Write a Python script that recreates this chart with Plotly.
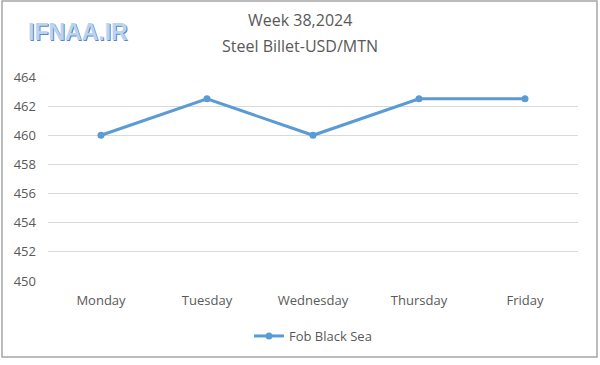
import plotly.graph_objects as go

days = ["Monday", "Tuesday", "Wednesday", "Thursday", "Friday"]
fob_black_sea = [460, 462.5, 460, 462.5, 462.5]
y_ticks = [450, 452, 454, 456, 458, 460, 462, 464]

fig = go.Figure()
fig.add_trace(go.Scatter(
    x=days, y=fob_black_sea, mode="lines+markers", name="Fob Black Sea",
    line=dict(color="#5B9BD5", width=3),
    marker=dict(color="#5B9BD5", size=7, symbol="circle"),
))

L, R, T, B = 48, 22, 77, 84
W, H = 600, 365
pw = W - L - R
ph = H - T - B


def px(x):
    return (x - L) / pw


def py(y):
    return (H - B - y) / ph


font_family = "Open Sans, Noto Sans, sans-serif"
fig.update_layout(
    width=W, height=H,
    margin=dict(l=L, r=R, t=T, b=B),
    paper_bgcolor="white", plot_bgcolor="white",
    font=dict(family=font_family, color="#595959", size=13),
    showlegend=True,
    legend=dict(orientation="h", x=0.5, xanchor="center", y=py(321), yanchor="top",
                font=dict(size=13, color="#595959")),
    xaxis=dict(range=[-0.5, 4.5], showgrid=False, showline=False, ticks="",
               tickfont=dict(size=13, color="#595959"), ticklabelstandoff=10),
    yaxis=dict(range=[450, 464], tickvals=y_ticks, showgrid=True, gridcolor="#D9D9D9",
               gridwidth=1, zeroline=False, showline=False, ticks="",
               tickfont=dict(size=13, color="#595959"), ticklabelstandoff=11),
    annotations=[
        dict(text="Week 38,2024", x=px(300), y=py(20), xref="paper", yref="paper",
             xanchor="center", yanchor="middle", showarrow=False,
             font=dict(size=16, color="#595959")),
        dict(text="Steel Billet-USD/MTN", x=px(300), y=py(46), xref="paper", yref="paper",
             xanchor="center", yanchor="middle", showarrow=False,
             font=dict(size=16, color="#595959")),
        dict(text="<b>IFNAA.IR</b>", x=px(79), y=py(33), xref="paper", yref="paper",
             xanchor="center", yanchor="middle", showarrow=False,
             font=dict(size=23, color="#5B87C5", family="Liberation Sans, Arial, sans-serif")),
        dict(text="<b>IFNAA.IR</b>", x=px(78), y=py(32), xref="paper", yref="paper",
             xanchor="center", yanchor="middle", showarrow=False,
             font=dict(size=23, color="#B9D3F0", family="Liberation Sans, Arial, sans-serif")),
    ],
)

fig.add_shape(type="rect", xref="paper", yref="paper",
              x0=px(2), x1=px(597), y0=py(357), y1=py(1),
              line=dict(color="#A6A6A6", width=1.5), fillcolor="rgba(0,0,0,0)", layer="below")

fig.write_html("out.html", config={"displayModeBar": False},
               post_script="document.body.style.margin='0';")
